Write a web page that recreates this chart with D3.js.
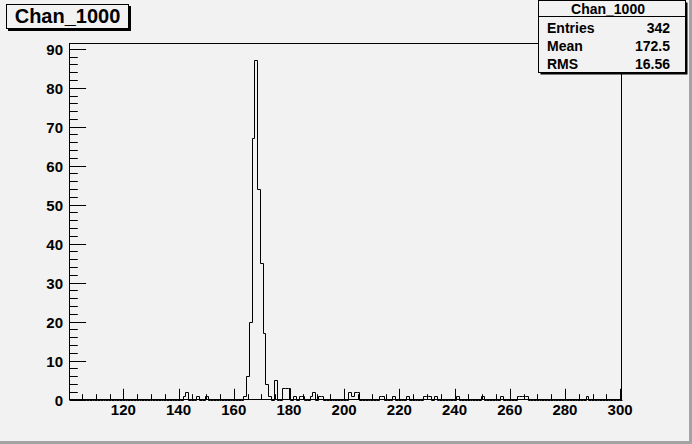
<html>

<head>
    <style>
        body { margin: 0; background: #f2f2f2; }
        text { font-family: "Liberation Sans", Arial, sans-serif; font-weight: bold; fill: #000; }
    </style>
</head>

<body>
    <script src="https://d3js.org/d3.v7.min.js"></script>
    <script>
        var width = 692, height = 444;

        // histogram Chan_1000, 1 unit bins centred on integers (only non-empty bins listed)
        var binCenters = [142, 143, 147, 150, 164, 165, 166, 167, 168, 169, 170, 171, 172, 173, 175,
            178, 179, 180, 182, 184, 185, 188, 189, 191, 192, 202, 203, 204, 205, 213, 214, 218,
            223, 229, 230, 231, 233, 241, 250, 257, 263, 264, 265, 266, 288];
        var binCounts = [1, 2, 1, 1, 1, 6, 20, 67, 87, 54, 35, 17, 4, 1, 5,
            3, 3, 3, 1, 1, 1, 1, 2, 1, 1, 2, 1, 2, 2, 1, 1, 1,
            1, 1, 1, 1, 1, 1, 1, 1, 1, 1, 1, 1, 1];
        var xTickLabels = [120, 140, 160, 180, 200, 220, 240, 260, 280, 300];
        var yTickLabels = [0, 10, 20, 30, 40, 50, 60, 70, 80, 90];
        var statsLabels = ["Entries", "Mean", "RMS"];
        var statsValues = ["342", "172.5", "16.56"];
        var histName = "Chan_1000";

        var xMin = 100.5, xMax = 300.5;
        var yMax = d3.max(binCounts) * 1.05;

        var svg = d3.select("body")
            .append("svg")
            .attr("width", width)
            .attr("height", height);

        // canvas bevel (bottom / right)
        svg.append("rect").attr("x", 0).attr("y", 0).attr("width", width).attr("height", height).attr("fill", "#f2f2f2");
        svg.append("rect").attr("x", width - 3).attr("y", 0).attr("width", 3).attr("height", height).attr("fill", "#a3a3a3");
        svg.append("rect").attr("x", 0).attr("y", height - 3).attr("width", width).attr("height", 3).attr("fill", "#a3a3a3");

        var x = d3.scaleLinear().domain([xMin, xMax]).range([69.5, 621.5]);
        var y = d3.scaleLinear().domain([0, yMax]).range([399.5, 43.5]);

        // frame
        svg.append("rect")
            .attr("x", x(xMin)).attr("y", y(yMax))
            .attr("width", x(xMax) - x(xMin)).attr("height", y(0) - y(yMax))
            .attr("fill", "none").attr("stroke", "#000").attr("stroke-width", 1);

        // full set of bins
        var counts = {};
        binCenters.forEach(function (b, i) { counts[b] = binCounts[i]; });
        var pts = [];
        for (var b = 101; b <= 300; b++) {
            var c = counts[b] || 0;
            pts.push([b - 0.5, c]);
            pts.push([b + 0.5, c]);
        }
        var line = d3.line()
            .x(function (d) { return Math.round(x(d[0])) + 0.5; })
            .y(function (d) { return Math.round(y(d[1])) + 0.5; });
        svg.append("path")
            .datum(pts)
            .attr("d", line)
            .attr("fill", "none")
            .attr("stroke", "#000")
            .attr("stroke-width", 1);

        // x axis ticks (inside the frame, pointing up)
        var xTicks = svg.append("g");
        for (var t = 105; t <= 300; t += 5) {
            var major = (t % 20 === 0);
            var px = Math.round(x(t)) + 0.5;
            xTicks.append("line")
                .attr("x1", px).attr("x2", px)
                .attr("y1", y(0)).attr("y2", y(0) - (major ? 10.7 : 5.3))
                .attr("stroke", "#000");
        }
        xTicks.selectAll("text")
            .data(xTickLabels)
            .enter().append("text")
            .attr("x", function (d) { return x(d); })
            .attr("y", 415)
            .attr("text-anchor", "middle")
            .attr("font-size", "15px")
            .text(function (d) { return d; });

        // y axis ticks (inside the frame, pointing right)
        var yTicks = svg.append("g");
        for (var v = 0; v <= 90; v += 2) {
            var maj = (v % 10 === 0);
            var py = Math.round(y(v)) + 0.5;
            yTicks.append("line")
                .attr("x1", x(xMin)).attr("x2", x(xMin) + (maj ? 16.6 : 8.3))
                .attr("y1", py).attr("y2", py)
                .attr("stroke", "#000");
        }
        yTicks.selectAll("text")
            .data(yTickLabels)
            .enter().append("text")
            .attr("x", 63)
            .attr("y", function (d) { return y(d) + 6; })
            .attr("text-anchor", "end")
            .attr("font-size", "15px")
            .text(function (d) { return d; });

        // title box with shadow
        svg.append("rect").attr("x", 8).attr("y", 6).attr("width", 123).attr("height", 25).attr("fill", "#000");
        svg.append("rect").attr("x", 6.5).attr("y", 4.5).attr("width", 122).attr("height", 24)
            .attr("fill", "#f2f2f2").attr("stroke", "#000");
        svg.append("text")
            .attr("x", 67.5).attr("y", 23)
            .attr("text-anchor", "middle")
            .attr("font-size", "20px")
            .text(histName);

        // stats box with shadow
        var sx = 538.5, sy = 0.5, sw = 147, sh = 72;
        svg.append("rect").attr("x", sx + 2).attr("y", sy + 2).attr("width", sw).attr("height", sh).attr("fill", "#000");
        svg.append("rect").attr("x", sx).attr("y", sy).attr("width", sw).attr("height", sh)
            .attr("fill", "#f2f2f2").attr("stroke", "#000");
        svg.append("line").attr("x1", sx).attr("x2", sx + sw).attr("y1", 16.5).attr("y2", 16.5).attr("stroke", "#000");
        svg.append("text")
            .attr("x", 608).attr("y", 14)
            .attr("text-anchor", "middle")
            .attr("font-size", "14px")
            .text(histName);
        statsLabels.forEach(function (lab, i) {
            var by = 33 + i * 18;
            svg.append("text").attr("x", 547).attr("y", by).attr("font-size", "14px").text(lab);
            svg.append("text").attr("x", 670).attr("y", by).attr("text-anchor", "end").attr("font-size", "14px").text(statsValues[i]);
        });
    </script>
</body>

</html>
